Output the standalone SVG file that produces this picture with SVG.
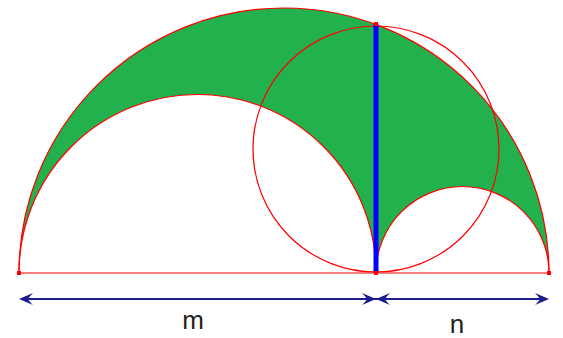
<svg xmlns="http://www.w3.org/2000/svg" width="563" height="338" viewBox="0 0 563 338">
<style>
.red{fill:none;stroke:#ff0000;stroke-width:1.2}
.pt{fill:#ff0000}
.dim{stroke:#1c1c8c;stroke-width:2;fill:none}
.ah{fill:#1c1c8c}
.lbl{font-family:"Liberation Sans",Arial,sans-serif;font-size:26px;fill:#222;text-anchor:middle}
</style>
<defs>
<path id="head" d="M0 0 L-14 -6 Q-10 -2 -9 0 Q-10 2 -14 6 Z"/>
</defs>
<rect width="563" height="338" fill="#fff"/>
<g id="arbelos">
<path d="M19 273 A265 265 0 0 1 549 273 A86.5 86.5 0 0 0 376 273 A178.5 178.5 0 0 0 19 273 Z" fill="#22b14c"/>
<path class="red" d="M19 273 A265 265 0 0 1 549 273"/>
<path class="red" d="M19 273 A178.5 178.5 0 0 1 376 273"/>
<path class="red" d="M376 273 A86.5 86.5 0 0 1 549 273"/>
<line class="red" x1="19" y1="273" x2="549" y2="273"/>
</g>
<g id="circle">
<circle class="red" cx="376" cy="149" r="123"/>
</g>
<g id="segment">
<line x1="376" y1="24" x2="376" y2="273" stroke="#0000ff" stroke-width="5"/>
</g>
<g id="points">
<rect class="pt" x="17" y="271" width="4" height="4"/>
<rect class="pt" x="547" y="271" width="4" height="4"/>
<rect class="pt" x="374" y="271" width="4" height="4"/>
<rect class="pt" x="374" y="22" width="4" height="4"/>
</g>
<g id="connectors">
<line class="dim" x1="21" y1="299" x2="547" y2="299"/>
<use href="#head" class="ah" transform="translate(19 299) rotate(180)"/>
<use href="#head" class="ah" transform="translate(376 299)"/>
<use href="#head" class="ah" transform="translate(376 299) rotate(180)"/>
<use href="#head" class="ah" transform="translate(549 299)"/>
</g>
<g id="labels">
<text class="lbl" x="193" y="329">m</text>
<text class="lbl" x="457" y="333">n</text>
</g>
</svg>
